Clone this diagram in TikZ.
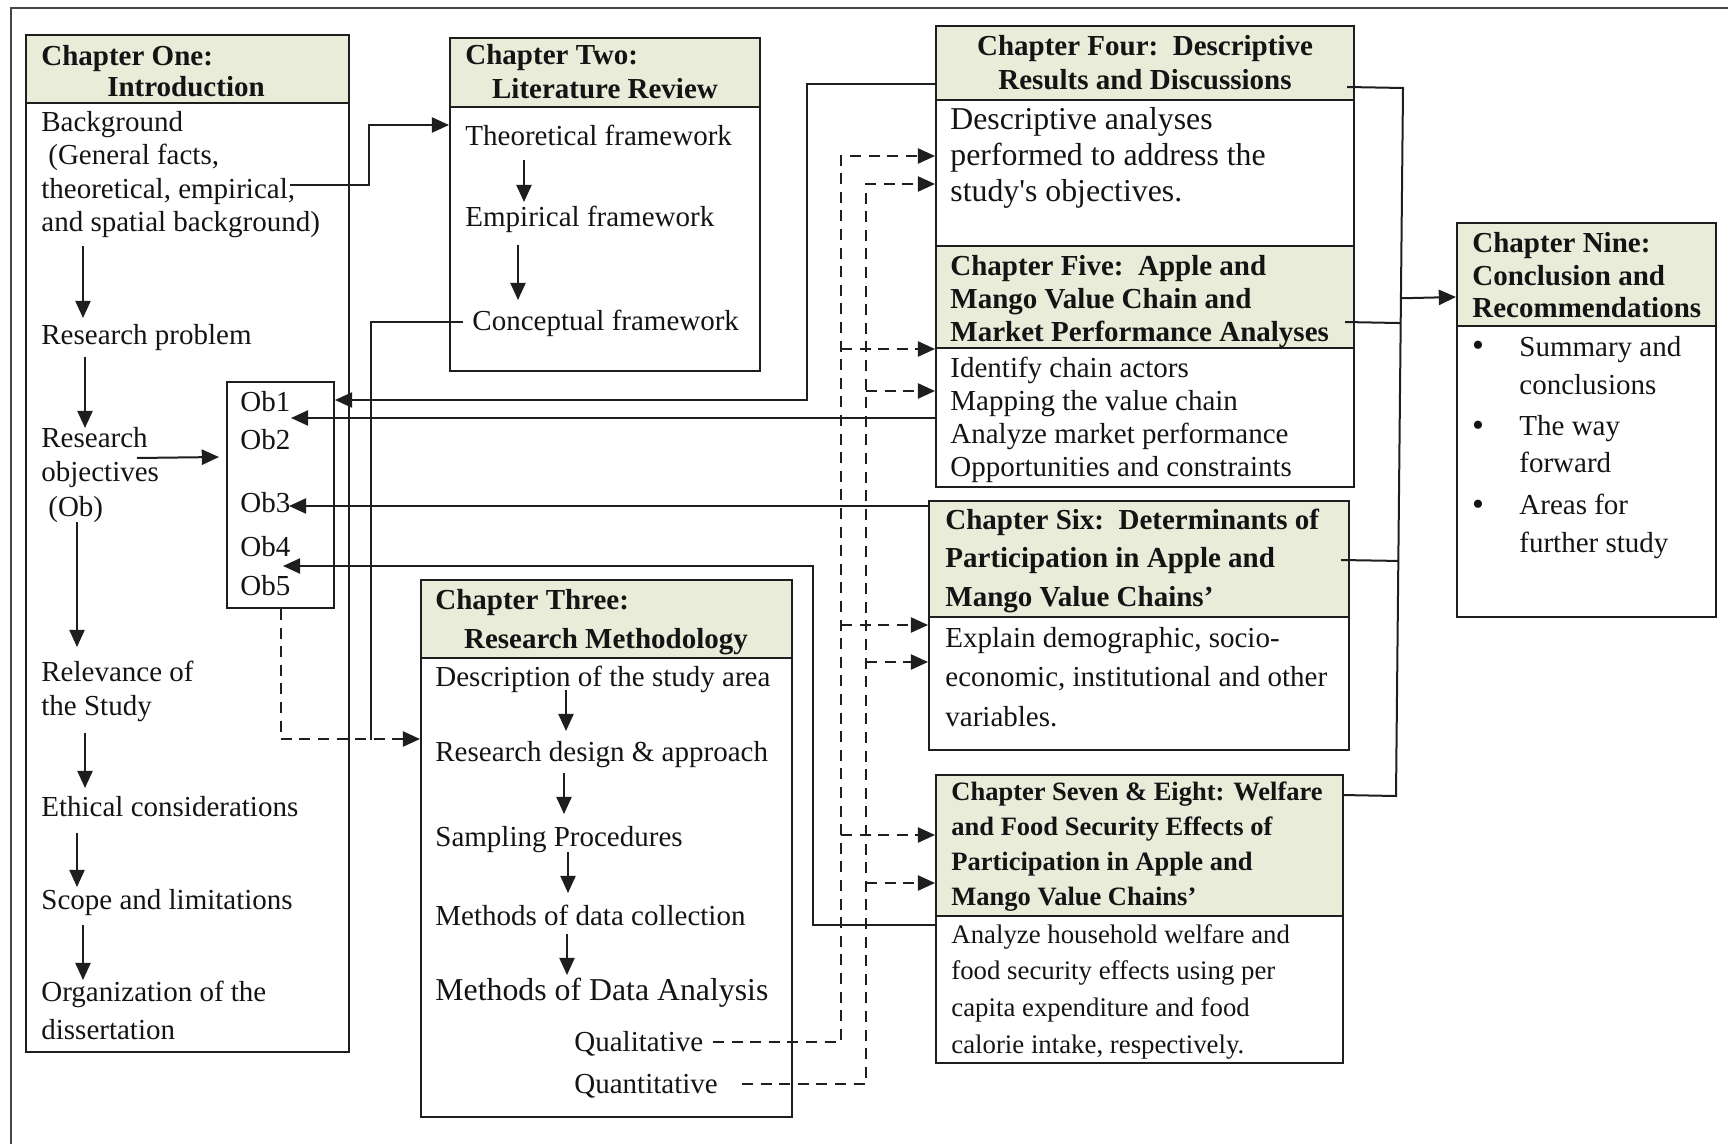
\documentclass[tikz,border=0pt]{standalone}
\usepackage{fontspec}
\setmainfont{Liberation Serif}
\newfontfamily\plainserif{Liberation Serif}
\usetikzlibrary{arrows.meta,calc,fit}
\definecolor{hdrfill}{RGB}{232,236,217}
\definecolor{boxcol}{RGB}{30,30,30}
\definecolor{framecol}{RGB}{70,70,70}
\definecolor{ink}{RGB}{20,20,20}
\newcommand\fsz[2]{\fontsize{#1}{#2}\selectfont}

\begin{document}
\begin{tikzpicture}[x=0.5pt,y=-0.5pt,
  box/.style={draw=boxcol,line width=1pt,fill=white,inner sep=0pt},
  hdr/.style={draw=boxcol,line width=1pt,fill=hdrfill,inner sep=0pt},
  txt/.style={anchor=base west,inner sep=0pt,align=left,text=ink,font={\fsz{14.5}{16.5}}},
  btxt/.style={txt,font={\fsz{14.5}{16.5}\bfseries}},
  ctr/.style={anchor=base,inner sep=0pt,text=ink,font={\fsz{14.5}{16.5}\bfseries}},
  conn/.style={draw=boxcol,line width=1pt},
  arr/.style={conn,-{Triangle[length=8.6pt,width=7.6pt]}},
  dashln/.style={conn,dash pattern=on 5.5pt off 3.8pt},
]
\useasboundingbox (0,0) rectangle (1728,1144);
\draw[framecol,line width=1.2pt] (11,1144) -- (11,8) -- (1728,8);

% chapter boxes with shaded title bands
\node[box,fit={(26,35) (349,1052)}] (ch1) {};
\node[hdr,fit={(26,35) (349,103)}] (ch1h) {};
\node[box,fit={(450,38) (760,371)}] (ch2) {};
\node[hdr,fit={(450,38) (760,107)}] (ch2h) {};
\node[box,fit={(421,580) (792,1117)}] (ch3) {};
\node[hdr,fit={(421,580) (792,658)}] (ch3h) {};
\node[box,fit={(936,26) (1354,246)}] (ch4) {};
\node[hdr,fit={(936,26) (1354,100)}] (ch4h) {};
\node[box,fit={(936,246) (1354,487)}] (ch5) {};
\node[hdr,fit={(936,246) (1354,348)}] (ch5h) {};
\node[box,fit={(929,501) (1349,750)}] (ch6) {};
\node[hdr,fit={(929,501) (1349,617)}] (ch6h) {};
\node[box,fit={(936,775) (1343,1063)}] (ch7) {};
\node[hdr,fit={(936,775) (1343,916)}] (ch7h) {};
\node[box,fit={(1457,223) (1716,617)}] (ch9) {};
\node[hdr,fit={(1457,223) (1716,326)}] (ch9h) {};
\node[box,fit={(227,382) (334,608)}] (ob) {};

% multi-line texts are placed by the baseline of their last line

% Chapter One
\node[btxt] (c1a) at (41,66) {Chapter One:};
\node[ctr] (c1b) at (186,97) {Introduction};
\node[txt,font={\fsz{14.5}{16.8}}] (bg) at (41,232) {Background\\\hspace*{3.5pt}(General facts,\\theoretical, empirical,\\and spatial background)};
\node[txt] (rp) at (41,344) {Research problem};
\node[txt,font={\fsz{14.5}{17.25}}] (ro) at (41,516) {Research\\objectives\\\hspace*{3.5pt}(Ob)};
\node[txt,font={\fsz{14.5}{17}}] (rel) at (41,715) {Relevance of\\the Study};
\node[txt] (eth) at (41,816) {Ethical considerations};
\node[txt] (scp) at (41,909) {Scope and limitations};
\node[txt,font={\fsz{14.5}{19}}] (org) at (41,1039) {Organization of the\\dissertation};

% objectives
\node[txt] (o1) at (240,411) {Ob1};
\node[txt] (o2) at (240,449) {Ob2};
\node[txt] (o3) at (240,512) {Ob3};
\node[txt] (o4) at (240,556) {Ob4};
\node[txt] (o5) at (240,595) {Ob5};

% Chapter Two
\node[btxt] (c2a) at (465,65) {Chapter Two:};
\node[ctr] (c2b) at (605,99) {Literature Review};
\node[txt] (th) at (465,146) {Theoretical framework};
\node[txt] (em) at (465,227) {Empirical framework};
\node[txt] (cf) at (472,331) {Conceptual framework};

% Chapter Three
\node[btxt] (c3a) at (435,609) {Chapter Three:};
\node[ctr] (c3b) at (606,648) {Research Methodology};
\node[txt] (d1) at (435,686) {Description of the study area};
\node[txt] (d2) at (435,761) {Research design \& approach};
\node[txt] (d3) at (435,846) {Sampling Procedures};
\node[txt] (d4) at (435,925) {Methods of data collection};
\node[txt,font={\fsz{15.9}{18}}] (d5) at (435,1000) {Methods of Data Analysis};
\node[txt] (qual) at (574,1051) {Qualitative};
\node[txt] (quant) at (574,1093) {Quantitative};

% Chapter Four
\node[ctr] (c4a) at (1145,56) {Chapter Four:\ \ Descriptive};
\node[ctr] (c4b) at (1145,90) {Results and Discussions};
\node[txt,font={\fsz{15.9}{18}}] (c4t) at (950,202) {Descriptive analyses\\performed to address the\\study{\plainserif'}s objectives.};

% Chapter Five
\node[btxt] (c5h) at (950,342) {Chapter Five:\ \ Apple and\\Mango Value Chain and\\Market Performance Analyses};
\node[txt] (c5t) at (950,476) {Identify chain actors\\Mapping the value chain\\Analyze market performance\\Opportunities and constraints};

% Chapter Six
\node[btxt,font={\fsz{14.5}{19.25}\bfseries}] (c6h) at (945,606) {Chapter Six:\ \ Determinants of\\Participation in Apple and\\Mango Value Chains’};
\node[txt,font={\fsz{14.5}{19.75}}] (c6t) at (945,726) {Explain demographic, socio-\\economic, institutional and other\\variables.};

% Chapter Seven & Eight
\node[btxt,font={\fsz{13.25}{17.35}\bfseries}] (c7h) at (951,905) {Chapter Seven \& Eight: Welfare\\and Food Security Effects of\\Participation in Apple and\\Mango Value Chains’};
\node[txt,font={\fsz{13.4}{18.3}}] (c7t) at (951,1053) {Analyze household welfare and\\food security effects using per\\capita expenditure and food\\calorie intake, respectively.};

% Chapter Nine
\node[btxt,font={\fsz{14.5}{16.25}\bfseries}] (c9h) at (1472,318) {Chapter Nine:\\Conclusion and\\Recommendations};
\node[txt,anchor=base,font={\fsz{17}{19}}] (k1) at (1478,357) {\textbullet};
\node[txt,font={\fsz{14.5}{19}}] (s1) at (1519,394) {Summary and\\conclusions};
\node[txt,anchor=base,font={\fsz{17}{19}}] (k2) at (1478,437) {\textbullet};
\node[txt,font={\fsz{14.5}{18}}] (s2) at (1519,472) {The way\\forward};
\node[txt,anchor=base,font={\fsz{17}{19}}] (k3) at (1478,515) {\textbullet};
\node[txt,font={\fsz{14.5}{19}}] (s3) at (1519,552) {Areas for\\further study};

% Chapter One flow
\draw[arr] ($(bg.base west)+(42,14)$) -- ($(rp.base west)+(42,-26)$);
\draw[arr] ($(rp.base west)+(44,13)$) -- ($(ro.base west)+(44,-88)$);
\draw[arr] ($(ro.base west)+(36,6)$) -- ($(rel.base west)+(36,-68)$);
\draw[arr] ($(rel.base west)+(44,18)$) -- ($(eth.base west)+(44,-28)$);
\draw[arr] ($(eth.base west)+(36,17)$) -- ($(scp.base west)+(36,-22)$);
\draw[arr] ($(scp.base west)+(42,16)$) -- ($(org.base west)+(42,-59)$);
\draw[arr] ($(ro.base west)+(96,-58)$) -- ($(ob.north west)+(-7,76)$);

% Chapter Two flow
\draw[arr] ($(th.base west)+(59,14)$) -- ($(em.base west)+(59,-25)$);
\draw[arr] ($(em.base west)+(53,18)$) -- ($(cf.base west)+(46,-31)$);
\draw[arr] ($(bg.base west)+(249,-47)$) -- ++(79,0) |- ($(ch2.north west)+(0,88)$);

% into Chapter Three
\coordinate (jn) at (371,740);
\draw[conn] ($(cf.base west)+(-9,-9)$) -| (jn);
\draw[dashln,arr] (ob.south) |- ($(ch3.north west)+(0,160)$);

% Chapter Three flow
\draw[arr] ($(d1.base west)+(131,4)$) -- ($(d2.base west)+(131,-30)$);
\draw[arr] ($(d2.base west)+(129,12)$) -- ($(d3.base west)+(129,-32)$);
\draw[arr] ($(d3.base west)+(133,6)$) -- ($(d4.base west)+(133,-32)$);
\draw[arr] ($(d4.base west)+(132,9)$) -- ($(d5.base west)+(132,-25)$);

% qualitative analyses
\draw[dashln,arr] ($(qual.base west)+(139,-9)$) -| ($(ch4.north west)+(-94,131)$) -- ($(ch4.north west)+(0,131)$);
\draw[dashln,arr] ($(ch5.north west)+(-94,104)$) -- ($(ch5.north west)+(0,104)$);
\draw[dashln,arr] ($(ch6.north west)+(-87,125)$) -- ($(ch6.north west)+(0,125)$);
\draw[dashln,arr] ($(ch7.north west)+(-94,61)$) -- ($(ch7.north west)+(0,61)$);

% quantitative analyses
\draw[dashln,arr] ($(quant.base west)+(168,-9)$) -| ($(ch4.north west)+(-69,159)$) -- ($(ch4.north west)+(0,159)$);
\draw[dashln,arr] ($(ch5.north west)+(-69,146)$) -- ($(ch5.north west)+(0,146)$);
\draw[dashln,arr] ($(ch6.north west)+(-62,162)$) -- ($(ch6.north west)+(0,162)$);
\draw[dashln,arr] ($(ch7.north west)+(-69,109)$) -- ($(ch7.north west)+(0,109)$);

% results back to the objectives
\draw[arr] ($(ch4.north west)+(0,59)$) -- ++(-128,0) |- ($(ob.north east)+(0,19)$);
\draw[arr] ($(ch5.north west)+(0,173)$) -- ($(ob.north east)+(-44,37)$);
\draw[arr] ($(ch6.north west)+(0,6)$) -- ($(ob.north east)+(-46,125)$);
\draw[arr] ($(ch7.north west)+(0,151)$) -- ++(-122,0) |- ($(ob.north east)+(-52,185)$);

% results chapters feed the conclusion
\coordinate (vt) at (1403,88);
\coordinate (vb) at (1396,796);
\draw[conn] ($(ch4.north east)+(-8,62)$) -- (vt) -- (vb) -- ($(ch7.north east)+(-2,21)$);
\draw[conn] ($(ch5.north east)+(-10,77)$) -- ($(vt)!0.332!(vb)$);
\draw[conn] ($(ch6.north east)+(-9,60)$) -- ($(vt)!0.668!(vb)$);
\draw[arr] ($(vt)!0.297!(vb)$) -- ($(ch9.north west)+(0,75)$);
\end{tikzpicture}
\end{document}
